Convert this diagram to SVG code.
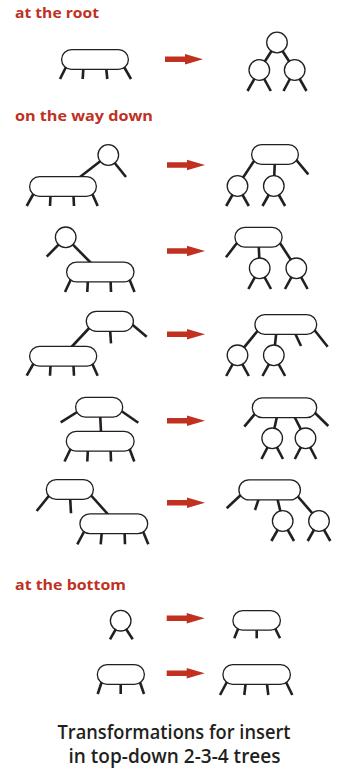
<svg xmlns="http://www.w3.org/2000/svg" width="338" height="769" viewBox="0 0 338 769">
<style>
.n{fill:#fff;stroke:#231f20;stroke-width:1.3}
.c line{stroke:#231f20;stroke-width:2.6}
.lbl{font-family:"Open Sans","Liberation Sans",sans-serif;font-weight:700;font-size:15px;fill:#c0311f}
.cap{font-family:"Open Sans","Liberation Sans",sans-serif;font-weight:600;font-size:19px;fill:#231f20;text-anchor:middle}
.arr{fill:#c0311f}
</style>
<defs>
<path id="arrow" d="M0,-2.8H20V-5.3L38,0L20,5.3V2.8H0Z"/>
</defs>
<rect width="338" height="769" fill="#fff"/>
<text class="lbl" x="15" y="18" textLength="84" lengthAdjust="spacingAndGlyphs">at the root</text>
<text class="lbl" x="15" y="121" textLength="138" lengthAdjust="spacingAndGlyphs">on the way down</text>
<text class="lbl" x="15" y="590" textLength="111" lengthAdjust="spacingAndGlyphs">at the bottom</text>
<g id="arrows" class="arr">
<use href="#arrow" x="165" y="59.3"/>
<use href="#arrow" x="167" y="165"/>
<use href="#arrow" x="167" y="251"/>
<use href="#arrow" x="167" y="334.3"/>
<use href="#arrow" x="167" y="420.7"/>
<use href="#arrow" x="167" y="502.7"/>
<use href="#arrow" x="166.7" y="618.3"/>
<use href="#arrow" x="166.7" y="673.3"/>
</g>
<g id="connectors" class="c">
<line x1="66.5" y1="66" x2="60" y2="79"/><line x1="83.5" y1="66" x2="82.7" y2="79"/><line x1="106" y1="66" x2="107.3" y2="79"/><line x1="123.5" y1="66" x2="131" y2="79"/>
<line x1="277" y1="42.5" x2="259.3" y2="70"/><line x1="277" y1="42.5" x2="294.7" y2="70"/>
<line x1="259.3" y1="70" x2="247.5" y2="91"/><line x1="259.3" y1="70" x2="270.8" y2="91"/><line x1="294.7" y1="70" x2="283.5" y2="91"/><line x1="294.7" y1="70" x2="306.5" y2="91"/>
<line x1="108.3" y1="155" x2="78" y2="178.5"/><line x1="108.3" y1="155" x2="126" y2="177"/>
<line x1="35" y1="191" x2="26.7" y2="206"/><line x1="50.7" y1="192" x2="50" y2="206"/><line x1="73.3" y1="192" x2="74" y2="206"/><line x1="91" y1="191" x2="97.7" y2="206"/>
<line x1="256" y1="158" x2="237.5" y2="186"/><line x1="275" y1="158" x2="273.8" y2="186"/><line x1="293" y1="156" x2="308.3" y2="174.3"/>
<line x1="237.5" y1="186" x2="226.2" y2="206"/><line x1="237.5" y1="186" x2="248.8" y2="206"/><line x1="273.8" y1="186" x2="262.5" y2="206"/><line x1="273.8" y1="186" x2="285.1" y2="206"/>
<line x1="65.7" y1="237.3" x2="46.7" y2="256.7"/><line x1="65.7" y1="237.3" x2="93" y2="265"/>
<line x1="72" y1="277" x2="65" y2="292"/><line x1="88" y1="278" x2="87.3" y2="292"/><line x1="110.5" y1="278" x2="111" y2="292"/><line x1="128.5" y1="277" x2="134.5" y2="292"/>
<line x1="240" y1="239" x2="226" y2="257.3"/><line x1="258.5" y1="240" x2="259.7" y2="268.3"/><line x1="278" y1="240" x2="296.3" y2="268.3"/>
<line x1="259.7" y1="268.3" x2="248.4" y2="289"/><line x1="259.7" y1="268.3" x2="271" y2="289"/><line x1="296.3" y1="268.3" x2="285" y2="289"/><line x1="296.3" y1="268.3" x2="307.6" y2="289"/>
<line x1="110" y1="328" x2="111" y2="343.3"/><line x1="128" y1="321" x2="146.7" y2="336.7"/><line x1="93" y1="324" x2="71" y2="347.5"/>
<line x1="35" y1="361" x2="26.7" y2="375.7"/><line x1="50.7" y1="362" x2="50" y2="375.7"/><line x1="73.3" y1="362" x2="74" y2="375.7"/><line x1="91" y1="361" x2="97.7" y2="375.7"/>
<line x1="260" y1="328" x2="237.5" y2="355.3"/><line x1="276.6" y1="330" x2="273.8" y2="355.3"/><line x1="293.5" y1="330" x2="301" y2="346"/><line x1="312" y1="327" x2="327.7" y2="346.7"/>
<line x1="237.5" y1="355.3" x2="226.2" y2="376"/><line x1="237.5" y1="355.3" x2="248.8" y2="376"/><line x1="273.8" y1="355.3" x2="262.5" y2="376"/><line x1="273.8" y1="355.3" x2="285.1" y2="376"/>
<line x1="82" y1="409" x2="60.7" y2="422.3"/><line x1="117" y1="408" x2="138.3" y2="422.7"/><line x1="100" y1="412" x2="101" y2="432"/>
<line x1="72" y1="446" x2="64.5" y2="461.5"/><line x1="88" y1="447" x2="87.3" y2="461.5"/><line x1="110.5" y1="447" x2="111" y2="461.5"/><line x1="128.5" y1="446" x2="134.3" y2="461.5"/>
<line x1="259" y1="409" x2="244.3" y2="426.7"/><line x1="310" y1="408" x2="328.3" y2="426"/><line x1="278" y1="412" x2="272.2" y2="438.3"/><line x1="292" y1="412" x2="305.5" y2="438.3"/>
<line x1="272.2" y1="438.3" x2="261.5" y2="459"/><line x1="272.2" y1="438.3" x2="283" y2="459"/><line x1="305.5" y1="438.3" x2="294.8" y2="459"/><line x1="305.5" y1="438.3" x2="316.2" y2="459"/>
<line x1="52" y1="492" x2="36.7" y2="511"/><line x1="70" y1="495" x2="71" y2="513.3"/><line x1="88" y1="492" x2="109.5" y2="516"/>
<line x1="85.5" y1="529" x2="77.3" y2="544.3"/><line x1="102" y1="530" x2="100.7" y2="544.3"/><line x1="124.5" y1="530" x2="125" y2="544.3"/><line x1="142" y1="529" x2="148.3" y2="544.3"/>
<line x1="245" y1="491" x2="226.7" y2="508.3"/><line x1="260" y1="495" x2="255" y2="510"/><line x1="276.5" y1="495" x2="282.7" y2="521"/><line x1="294" y1="492" x2="319" y2="521"/>
<line x1="282.7" y1="521" x2="271.4" y2="541"/><line x1="282.7" y1="521" x2="294" y2="541"/><line x1="319" y1="521" x2="307.7" y2="541"/><line x1="319" y1="521" x2="330.3" y2="541"/>
<line x1="120.7" y1="620.7" x2="110" y2="639.3"/><line x1="120.7" y1="620.7" x2="132.7" y2="639.3"/>
<line x1="240" y1="624" x2="234.3" y2="638.3"/><line x1="256.7" y1="626" x2="256.7" y2="638.3"/><line x1="273" y1="624" x2="280" y2="638.3"/>
<line x1="103" y1="678" x2="97.7" y2="694"/><line x1="120.7" y1="680" x2="120.7" y2="694"/><line x1="138.5" y1="678" x2="144" y2="694"/>
<line x1="229" y1="678" x2="220" y2="695"/><line x1="246" y1="680" x2="244.3" y2="695"/><line x1="266.5" y1="680" x2="268.3" y2="695"/><line x1="284" y1="678" x2="292.3" y2="695"/>
</g>
<g id="root-4node"><rect class="n" x="61.6" y="49.6" width="66.8" height="19.8" rx="9.9"/></g>
<g id="root-split-top"><circle class="n" cx="277" cy="42.5" r="10.3"/></g>
<g id="root-split-left"><circle class="n" cx="259.3" cy="70" r="10.3"/></g>
<g id="root-split-right"><circle class="n" cx="294.7" cy="70" r="10.3"/></g>
<g id="r1-parent"><circle class="n" cx="108.3" cy="155" r="10.3"/></g>
<g id="r1-child"><rect class="n" x="29.6" y="176.6" width="66.8" height="19.8" rx="9.9"/></g>
<g id="r1-out-parent"><rect class="n" x="251.6" y="144.6" width="46.8" height="19.8" rx="9.9"/></g>
<g id="r1-out-left"><circle class="n" cx="237.5" cy="186" r="10.3"/></g>
<g id="r1-out-mid"><circle class="n" cx="273.8" cy="186" r="10.3"/></g>
<g id="r2-parent"><circle class="n" cx="65.7" cy="237.3" r="10.3"/></g>
<g id="r2-child"><rect class="n" x="66.6" y="262.1" width="67.4" height="19.8" rx="9.9"/></g>
<g id="r2-out-parent"><rect class="n" x="234.9" y="227.3" width="47.2" height="19.8" rx="9.9"/></g>
<g id="r2-out-mid"><circle class="n" cx="259.7" cy="268.3" r="10.3"/></g>
<g id="r2-out-right"><circle class="n" cx="296.3" cy="268.3" r="10.3"/></g>
<g id="r3-parent"><rect class="n" x="86.3" y="311.3" width="47.1" height="20" rx="10"/></g>
<g id="r3-child"><rect class="n" x="29.6" y="346.3" width="67.1" height="19.8" rx="9.9"/></g>
<g id="r3-out-parent"><rect class="n" x="254.9" y="314.6" width="61.8" height="19.8" rx="9.9"/></g>
<g id="r3-out-left"><circle class="n" cx="237.5" cy="355.3" r="10.3"/></g>
<g id="r3-out-mid"><circle class="n" cx="273.8" cy="355.3" r="10.3"/></g>
<g id="r4-parent"><rect class="n" x="75.6" y="397.3" width="47.1" height="19.8" rx="9.9"/></g>
<g id="r4-child"><rect class="n" x="66.3" y="431.3" width="67.8" height="19.8" rx="9.9"/></g>
<g id="r4-out-parent"><rect class="n" x="252.3" y="397.9" width="64.4" height="19.8" rx="9.9"/></g>
<g id="r4-out-left"><circle class="n" cx="272.2" cy="438.3" r="10.3"/></g>
<g id="r4-out-right"><circle class="n" cx="305.5" cy="438.3" r="10.3"/></g>
<g id="r5-parent"><rect class="n" x="46.3" y="479.6" width="47.1" height="19.8" rx="9.9"/></g>
<g id="r5-child"><rect class="n" x="79.9" y="513.9" width="67.8" height="19.8" rx="9.9"/></g>
<g id="r5-out-parent"><rect class="n" x="238.9" y="479.9" width="61.5" height="20" rx="10"/></g>
<g id="r5-out-mid"><circle class="n" cx="282.7" cy="521" r="10.3"/></g>
<g id="r5-out-right"><circle class="n" cx="319" cy="521" r="10.3"/></g>
<g id="b1-before"><circle class="n" cx="120.7" cy="620.7" r="10.3"/></g>
<g id="b1-after"><rect class="n" x="232.9" y="610.6" width="47.5" height="19.6" rx="9.8"/></g>
<g id="b2-before"><rect class="n" x="97.3" y="664.6" width="47.1" height="19.8" rx="9.9"/></g>
<g id="b2-after"><rect class="n" x="222.9" y="664.6" width="67.5" height="19.8" rx="9.9"/></g>
<text class="cap" x="174" y="739" textLength="233" lengthAdjust="spacingAndGlyphs">Transformations for insert</text>
<text class="cap" x="174.5" y="763" textLength="212" lengthAdjust="spacingAndGlyphs">in top-down 2-3-4 trees</text>
</svg>
